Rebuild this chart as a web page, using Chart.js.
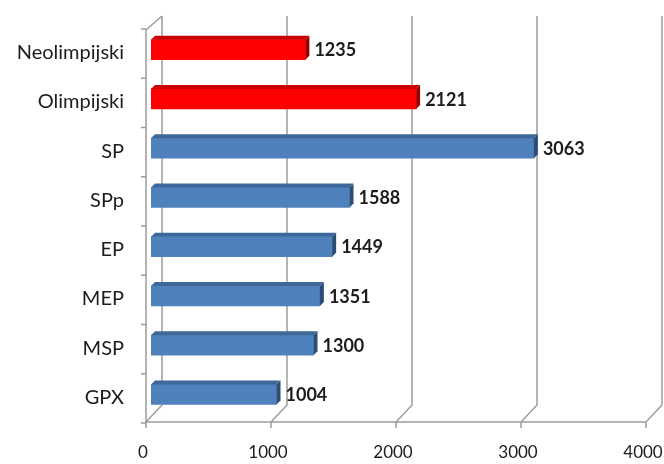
<!DOCTYPE html>
<html>
<head>
<meta charset="utf-8">
<script src="https://cdn.jsdelivr.net/npm/chart.js@4"></script>
<style>
  html, body { margin: 0; padding: 0; background: #fff; }
  #wrap { width: 664px; height: 464px; }
</style>
</head>
<body>
<div id="wrap"><canvas id="chart"></canvas></div>
<script>
const categories = ['Neolimpijski', 'Olimpijski', 'SP', 'SPp', 'EP', 'MEP', 'MSP', 'GPX'];
const values = [1235, 2121, 3063, 1588, 1449, 1351, 1300, 1004];
const xTicks = [0, 1000, 2000, 3000, 4000];

const barColors = ['#ff0000', '#ff0000', '#4f81bd', '#4f81bd', '#4f81bd', '#4f81bd', '#4f81bd', '#4f81bd'];
const topColors = ['#c80000', '#c80000', '#3d6899', '#3d6899', '#3d6899', '#3d6899', '#3d6899', '#3d6899'];
const sideColors = ['#9e0000', '#9e0000', '#2c4d75', '#2c4d75', '#2c4d75', '#2c4d75', '#2c4d75', '#2c4d75'];

const FONT = 'Lato';
const GRID = '#9c9c9c';
const DEPTH = 4;

// back wall, floor and left axis, drawn in fake 3D from the x scale
const wallPlugin = {
    id: 'wall',
    beforeDatasetsDraw(chart) {
        const ctx = chart.ctx;
        const xs = chart.scales.x;
        const ys = chart.scales.y;
        const area = chart.chartArea;
        const floorFront = area.bottom + 3;
        const floorBack = floorFront - 17;
        const wallTop = area.top - 9;
        ctx.save();
        ctx.strokeStyle = GRID;
        ctx.lineWidth = 1.5;
        ctx.beginPath();
        for (const v of xTicks) {
            const p = xs.getPixelForValue(v);
            // back wall line
            ctx.moveTo(p + 11, wallTop);
            ctx.lineTo(p + 11, floorBack);
            // floor diagonal
            ctx.lineTo(p - 5, floorFront);
            // tick below floor
            ctx.lineTo(p - 5, floorFront + 6);
        }
        // floor front edge
        const x0 = xs.getPixelForValue(0) - 5;
        ctx.moveTo(x0, floorFront);
        ctx.lineTo(xs.getPixelForValue(4000) - 5, floorFront);
        // left axis (front) and its top corner
        ctx.moveTo(x0, floorFront);
        ctx.lineTo(x0, area.top + 5);
        ctx.lineTo(x0 + 16, wallTop);
        // category ticks
        const step = (ys.bottom - ys.top) / categories.length;
        for (let i = 0; i <= categories.length; i++) {
            const y = ys.top + i * step + 4;
            ctx.moveTo(x0 - 5, y);
            ctx.lineTo(x0, y);
        }
        ctx.stroke();
        ctx.restore();
    }
};

// top and side faces of the bars plus value labels
const barFacePlugin = {
    id: 'barFaces',
    afterDatasetsDraw(chart) {
        const ctx = chart.ctx;
        const meta = chart.getDatasetMeta(0);
        ctx.save();
        meta.data.forEach((bar, i) => {
            const p = bar.getProps(['x', 'y', 'base', 'height'], true);
            const top = p.y - p.height / 2;
            const bottom = p.y + p.height / 2;
            ctx.fillStyle = topColors[i];
            ctx.beginPath();
            ctx.moveTo(p.base, top);
            ctx.lineTo(p.base + DEPTH, top - DEPTH);
            ctx.lineTo(p.x + DEPTH, top - DEPTH);
            ctx.lineTo(p.x, top);
            ctx.closePath();
            ctx.fill();
            ctx.fillStyle = sideColors[i];
            ctx.beginPath();
            ctx.moveTo(p.x, top);
            ctx.lineTo(p.x + DEPTH, top - DEPTH);
            ctx.lineTo(p.x + DEPTH, bottom - DEPTH);
            ctx.lineTo(p.x, bottom);
            ctx.closePath();
            ctx.fill();

            ctx.fillStyle = '#1c1c1c';
            ctx.font = 'bold 18px ' + FONT;
            ctx.textAlign = 'left';
            ctx.textBaseline = 'middle';
            ctx.fillText(String(values[i]), p.x + DEPTH + 5, p.y + 1);
        });
        ctx.restore();
    }
};

new Chart(document.getElementById('chart').getContext('2d'), {
    type: 'bar',
    data: {
        labels: categories,
        datasets: [{
            data: values,
            backgroundColor: barColors,
            borderWidth: 0,
            barThickness: 20
        }]
    },
    options: {
        indexAxis: 'y',
        responsive: true,
        maintainAspectRatio: false,
        animation: false,
        layout: { padding: { top: 25, right: 13, left: 0, bottom: 0 } },
        plugins: {
            legend: { display: false },
            tooltip: { enabled: false }
        },
        scales: {
            x: {
                min: 0,
                max: 4000,
                grid: { display: false, drawTicks: false },
                border: { display: false },
                ticks: {
                    stepSize: 1000,
                    padding: 23,
                    labelOffset: -8,
                    maxRotation: 0,
                    color: '#1c1c1c',
                    font: { family: FONT, size: 17 },
                    callback: (v) => String(v)
                },
                afterFit(scale) {
                    scale.height = 45;
                    scale.paddingLeft = 0;
                    scale.paddingRight = 0;
                }
            },
            y: {
                grid: { display: false, drawTicks: false },
                border: { display: false },
                ticks: {
                    padding: 27,
                    labelOffset: 3,
                    color: '#1c1c1c',
                    font: { family: FONT, size: 20 }
                },
                afterFit(scale) {
                    scale.width = 151;
                    scale.paddingTop = 0;
                    scale.paddingBottom = 0;
                }
            }
        }
    },
    plugins: [wallPlugin, barFacePlugin]
});
</script>
</body>
</html>
